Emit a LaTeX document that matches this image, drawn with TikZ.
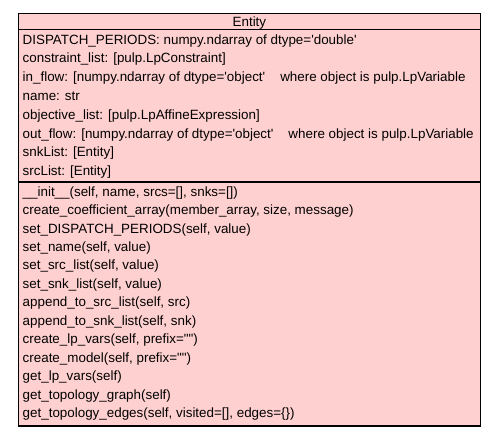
\documentclass[tikz,border=0pt]{standalone}
\usepackage{fontspec}
\newfontfamily\umlfont{Liberation Sans}
\definecolor{umlfill}{RGB}{255,208,208}
\tikzset{
  umlbox/.style={draw=black, line width=1.2pt, fill=umlfill},
  umlline/.style={draw=black, line width=1.2pt},
  umltext/.style={anchor=base west, inner sep=0pt, font=\umlfont\fontsize{13.4}{15}\selectfont},
  umltitle/.style={anchor=base, inner sep=0pt, font=\umlfont\fontsize{13.4}{15}\selectfont}
}
\begin{document}
\begin{tikzpicture}[x=1pt,y=-1pt]
\useasboundingbox (0,0) rectangle (498,439);
\coordinate (tl) at (18.3,13.3);
\coordinate (br) at (480.5,426);
\coordinate (h1) at (18.3,29.3);
\coordinate (h2) at (480.5,29.3);
\coordinate (d1) at (18.3,182);
\coordinate (d2) at (480.5,182);
\path[umlbox] (tl) rectangle (br);
\draw[umlline] (h1) -- (h2);
\draw[umlline] (d1) -- (d2);
\node[umltitle] (title) at (249.4,26) {Entity};
% attributes
\def\ax{22.5}
\node[umltext] (a1) at (\ax,44.0) {DISPATCH\_PERIODS: numpy.ndarray of dtype='double'};
\node[umltext] (a2) at (\ax,62.8) {constraint\_list: [pulp.LpConstraint]};
\node[umltext] (a3) at (\ax,81.6) {in\_flow: [numpy.ndarray of dtype='object'\hspace{15pt}where object is pulp.LpVariable};
\node[umltext] (a4) at (\ax,100.4) {name: str};
\node[umltext] (a5) at (\ax,119.2) {objective\_list: [pulp.LpAffineExpression]};
\node[umltext] (a6) at (\ax,138.0) {out\_flow: [numpy.ndarray of dtype='object'\hspace{15pt}where object is pulp.LpVariable};
\node[umltext] (a7) at (\ax,156.8) {snkList: [Entity]};
\node[umltext] (a8) at (\ax,175.6) {srcList: [Entity]};
% methods
\node[umltext] (m1) at (\ax,196.2) {\_\_init\_\_(self, name, srcs=[], snks=[])};
\node[umltext] (m2) at (\ax,214.64) {create\_coefficient\_array(member\_array, size, message)};
\node[umltext] (m3) at (\ax,233.08) {set\_DISPATCH\_PERIODS(self, value)};
\node[umltext] (m4) at (\ax,251.52) {set\_name(self, value)};
\node[umltext] (m5) at (\ax,269.96) {set\_src\_list(self, value)};
\node[umltext] (m6) at (\ax,288.4) {set\_snk\_list(self, value)};
\node[umltext] (m7) at (\ax,306.84) {append\_to\_src\_list(self, src)};
\node[umltext] (m8) at (\ax,325.28) {append\_to\_snk\_list(self, snk)};
\node[umltext] (m9) at (\ax,343.72) {create\_lp\_vars(self, prefix="")};
\node[umltext] (m10) at (\ax,362.16) {create\_model(self, prefix="")};
\node[umltext] (m11) at (\ax,380.6) {get\_lp\_vars(self)};
\node[umltext] (m12) at (\ax,399.04) {get\_topology\_graph(self)};
\node[umltext] (m13) at (\ax,417.48) {get\_topology\_edges(self, visited=[], edges=\{\})};
\end{tikzpicture}
\end{document}
